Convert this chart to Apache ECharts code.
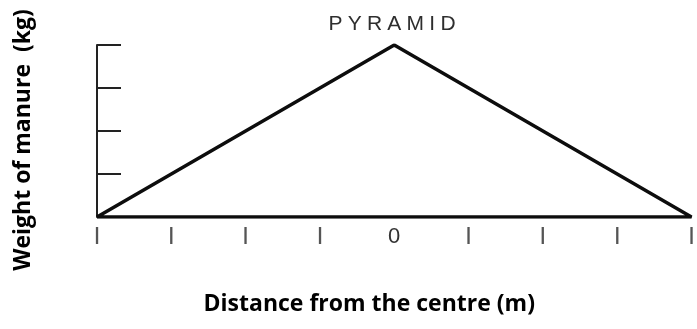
<!DOCTYPE html>
<html>
<head>
<meta charset="utf-8">
<script src="https://cdn.jsdelivr.net/npm/echarts@6/dist/echarts.min.js"></script>
<style>
  html, body { margin: 0; padding: 0; background: #fff; }
  #chart { width: 697px; height: 329px; }
</style>
</head>
<body>
<div id="chart"></div>
<script>
// outline of the pyramid (distance, weight), closed back to the start
var distance = [-4, 0, 4, -4];
var weight = [0, 4, 0, 0];
var xTicks = [-4, -3, -2, -1, 0, 1, 2, 3, 4];
var yTicks = [0, 1, 2, 3, 4];

var chartDom = document.getElementById('chart');
var myChart = echarts.init(chartDom);

var points = distance.map(function (d, i) { return [d, weight[i]]; });

var option = {
    animation: false,
    title: {
        text: 'P\u2005Y\u2005R\u2005A\u2005M\u2005I\u2005D',
        left: 387,
        textAlign: 'center',
        top: 9,
        textStyle: {
            fontFamily: 'Liberation Sans',
            fontWeight: 'normal',
            fontSize: 21,
            color: '#2e2e2e'
        }
    },
    grid: { left: 97, right: 4, top: 45, bottom: 112 },
    xAxis: {
        type: 'value',
        min: xTicks[0],
        max: xTicks[xTicks.length - 1],
        interval: 1,
        axisLine: { show: false },
        axisTick: { show: false },
        splitLine: { show: false },
        axisLabel: {
            margin: 9,
            fontFamily: 'Liberation Sans',
            fontSize: 18,
            color: '#555',
            formatter: function (v) { return v === 0 ? '{z|0}' : '{b||}'; },
            rich: {
                b: { fontFamily: 'Liberation Sans', fontWeight: 'bold', fontSize: 18, color: '#555' },
                z: { fontFamily: 'Liberation Sans', fontSize: 22, color: '#333' }
            }
        },
        name: 'Distance from the centre (m)',
        nameLocation: 'middle',
        nameGap: 76,
        nameTextStyle: {
            fontFamily: 'Open Sans',
            fontWeight: 'bold',
            fontSize: 23,
            color: '#000',
            padding: [0, 50, 0, 0]
        }
    },
    yAxis: {
        type: 'value',
        min: yTicks[0],
        max: yTicks[yTicks.length - 1],
        interval: 1,
        axisLine: { show: true, onZero: false, lineStyle: { color: '#222', width: 2 } },
        axisTick: { show: true, inside: true, length: 24, lineStyle: { color: '#222', width: 2 } },
        axisLabel: { show: false },
        splitLine: { show: false },
        name: 'Weight of manure  (kg)',
        nameLocation: 'middle',
        nameGap: 62,
        nameTextStyle: {
            fontFamily: 'Open Sans',
            fontWeight: 'bold',
            fontSize: 23,
            color: '#000',
            padding: [0, 18, 0, 0]
        }
    },
    series: [
        {
            type: 'line',
            data: points,
            showSymbol: false,
            lineStyle: { color: '#0d0d0d', width: 3.5 }
        }
    ]
};

myChart.setOption(option);
</script>
</body>
</html>
